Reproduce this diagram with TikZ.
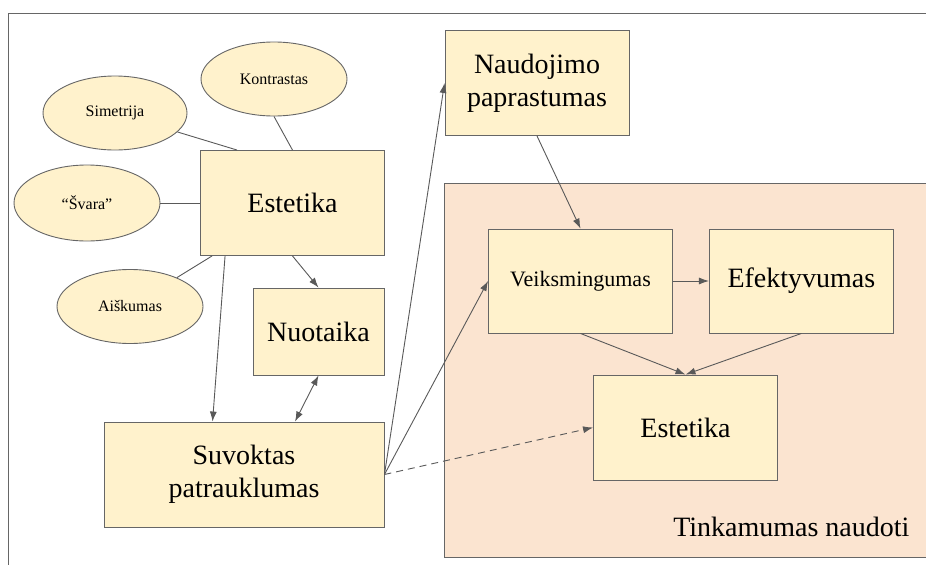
\documentclass[tikz,border=0pt]{standalone}
\usepackage{fontspec}
\setmainfont{Liberation Serif}
\usetikzlibrary{arrows.meta, shapes.geometric, positioning}
\definecolor{boxfill}{HTML}{FFF2CC}
\definecolor{groupfill}{HTML}{FBE4D0}
\definecolor{edge}{HTML}{666666}
\definecolor{wire}{HTML}{595959}
\tikzset{
    box/.style={
        rectangle, draw=edge, fill=boxfill, line width=0.9pt, align=center,
        inner sep=0pt, minimum width=184pt, minimum height=105pt,
        font=\fontsize{28}{33}\selectfont
    },
    bubble/.style={
        ellipse, draw=edge, fill=boxfill, line width=0.9pt, inner sep=0pt,
        minimum width=146pt, minimum height=74pt, font=\fontsize{16}{19}\selectfont
    },
    arrow/.style={
        -{Latex[length=10pt, width=7pt]}, line width=0.9pt, draw=wire
    },
    twoway/.style={
        {Latex[length=10pt, width=7pt]}-{Latex[length=10pt, width=7pt]}, line width=0.9pt, draw=wire
    },
    link/.style={
        line width=0.9pt, draw=wire
    }
}

\begin{document}
\begin{tikzpicture}[x=1pt, y=-1pt]
      \useasboundingbox (0,0) rectangle (926,565);
      \draw[edge, line width=0.8pt] (926,13) -- (8,13) -- (8,565);

      \node[rectangle, draw=edge, fill=groupfill, line width=0.9pt, minimum width=490pt, minimum height=374pt, anchor=north west] (group) at (444,183) {};
      \node[anchor=base east, font=\fontsize{28}{33}\selectfont] (grouplabel) at (913,536) {Tinkamumas naudoti};

      \node[box] (est) at (292.5,203) {Estetika};
      \node[box, minimum width=131pt, minimum height=87pt] (nuo) at (318.5,331.5) {Nuotaika};
      \node[box, minimum width=280pt] (suv) at (244,474.5) {Suvoktas\\patrauklumas};

      \node[bubble] (kon) at (274,79) {Kontrastas};
      \node[bubble, minimum width=144pt] (sim) at (115,113) {Simetrija};
      \node[bubble, minimum height=76pt] (sva) at (87,203) {“Švara”};
      \node[bubble] (aisk) at (130,306.5) {Aiškumas};

      \node[box] (naud) at (537,83) {Naudojimo\\paprastumas};
      \node[box, minimum height=104pt, font=\fontsize{22}{26}\selectfont] (veik) at (580.5,281) {Veiksmingumas};
      \node[box, minimum height=104pt, right=36pt of veik] (efek) {Efektyvumas};
      \node[box] (est2) at (685.5,427.5) {Estetika};

      \draw[link] (sim) -- ([xshift=37pt]est.north west);
      \draw[link] (kon.south) -- (est.north);
      \draw[link] (sva.east) -- (est.west);
      \draw[link] (aisk) -- ([xshift=12pt]est.south west);

      \draw[arrow] ([xshift=25pt]est.south west) -- ([xshift=109pt]suv.north west);
      \draw[arrow] (est.south) -- (nuo.north);
      \draw[twoway] (nuo.south) -- ([xshift=51pt]suv.north);

      \draw[arrow] (suv.east) -- (naud.west);
      \draw[arrow] (suv.east) -- (veik.west);
      \draw[arrow, dash pattern=on 7pt off 5pt] (suv.east) -- (est2.west);

      \draw[arrow] (naud.south) -- (veik.north);
      \draw[arrow] (veik.east) -- (efek.west);
      \draw[arrow] (veik.south) -- (est2.north);
      \draw[arrow] (efek.south) -- (est2.north);
\end{tikzpicture}
\end{document}
